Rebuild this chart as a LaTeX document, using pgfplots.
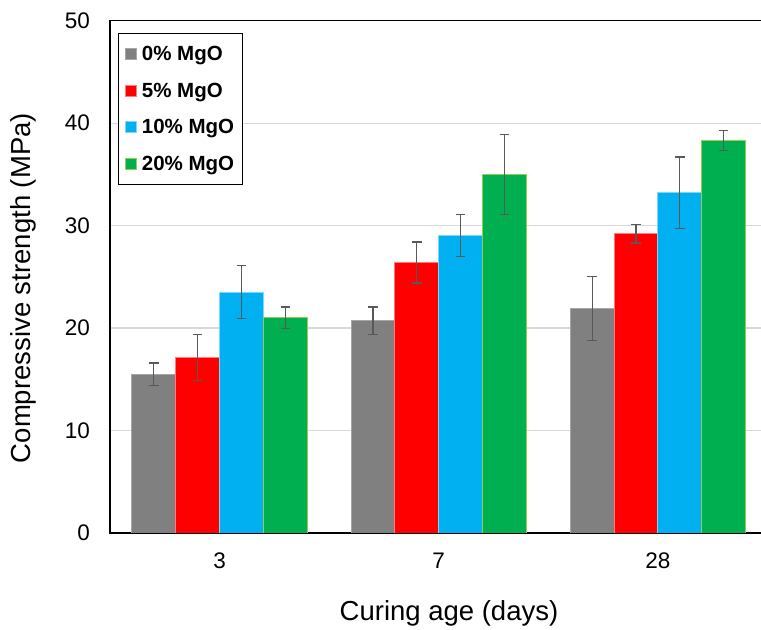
\documentclass[border=0pt]{standalone}
\usepackage{fontspec}
\setmainfont{Liberation Sans}
\usepackage{pgfplots}
\pgfplotsset{compat=1.18}
\definecolor{cgrey}{HTML}{808080}
\definecolor{cgreyE}{HTML}{A6A6A6}
\definecolor{cred}{HTML}{FF0000}
\definecolor{credE}{HTML}{FF7C80}
\definecolor{cblue}{HTML}{00B0F0}
\definecolor{cblueE}{HTML}{7FD6F7}
\definecolor{cgreen}{HTML}{00B050}
\definecolor{cgreenE}{HTML}{92D050}
\definecolor{errc}{HTML}{595959}
\definecolor{gridc}{HTML}{D9D9D9}
\pgfplotsset{
  layers/mylayers/.define layer set={axis background,axis grid,main,axis ticks,axis lines,axis tick labels,axis descriptions,axis foreground}{},
  myerr/.style={/pgfplots/error bars/.cd, y dir=both, y explicit,
    error bar style={errc, line width=1.2bp},
    error mark options={errc, rotate=90, mark size=4.8bp, line width=1.2bp},
    /pgfplots/.cd},
  mybar/.style 2 args={fill=#1, draw=#2, line width=1bp,
    legend image code/.code={\draw[fill=#1, draw=#2, line width=0.8bp] (0bp,-5.5bp) rectangle (11bp,5.5bp); \path[draw=none, fill=none] (0bp,0bp) -- (15bp,0bp);}, myerr},
}
\begin{document}
\begin{tikzpicture}
\begin{axis}[
  set layers=mylayers,
  at={(0,0)}, anchor=south west, scale only axis,
  width=657.5bp, height=512.3bp,
  xmin=-0.5, xmax=2.5, ymin=0, ymax=50,
  ybar=0pt, bar width=0.2,
  xtick={0,1,2}, xticklabels={3,7,28},
  ytick={0,10,20,30,40,50},
  ymajorgrids, grid style={gridc, line width=1.3bp},
  major tick length=0pt,
  axis line style={black, line width=1.3bp},
  tick label style={font=\fontsize{22.5bp}{27bp}\selectfont},
  /pgf/number format/assume math mode=true,
  xticklabel style={anchor=north, inner sep=0pt, yshift=-20bp},
  yticklabel style={anchor=east, inner sep=0pt, xshift=-20bp},
  label style={font=\fontsize{27.5bp}{33bp}\selectfont},
  xlabel={Curing age (days)}, ylabel={Compressive strength (MPa)},
  xlabel style={at={(axis description cs:0.5156,-0.156)}, anchor=center},
  ylabel style={at={(axis description cs:-0.1323,0.478)}, anchor=center},
  legend style={at={(rel axis cs:0.0122,0.976)}, anchor=north west, draw=black, line width=1bp,
    font=\bfseries\fontsize{20.5bp}{24bp}\selectfont, inner xsep=6bp, inner ysep=11bp, row sep=16.7bp},
  legend cell align=left,
]
\addplot[mybar={cgrey}{cgreyE}] coordinates {(0,15.5) +- (0,1.1) (1,20.7) +- (0,1.35) (2,21.9) +- (0,3.1)};
\addplot[mybar={cred}{credE}] coordinates {(0,17.1) +- (0,2.25) (1,26.4) +- (0,2.0) (2,29.2) +- (0,0.9)};
\addplot[mybar={cblue}{cblueE}] coordinates {(0,23.5) +- (0,2.6) (1,29.0) +- (0,2.05) (2,33.2) +- (0,3.5)};
\addplot[mybar={cgreen}{cgreenE}] coordinates {(0,21.0) +- (0,1.05) (1,35.0) +- (0,3.9) (2,38.3) +- (0,0.95)};
\legend{0\% MgO, 5\% MgO, 10\% MgO, 20\% MgO}
\end{axis}
\pgfresetboundingbox
\path[use as bounding box] (-110bp,-97bp) rectangle (651bp,533bp);
\end{tikzpicture}
\end{document}
